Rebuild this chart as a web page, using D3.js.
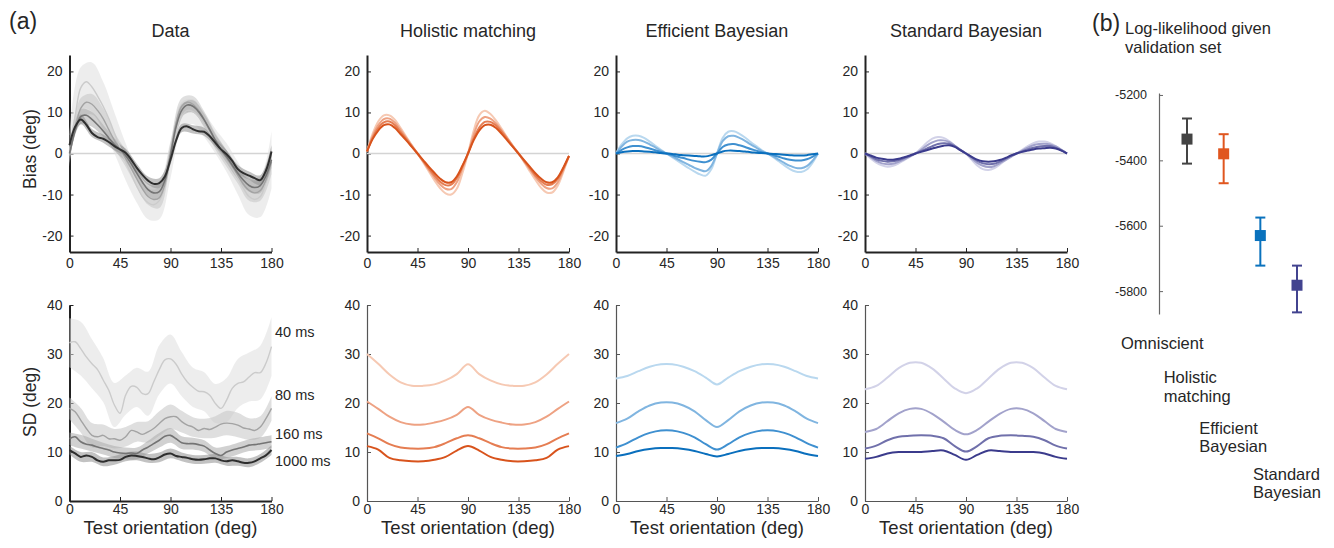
<!DOCTYPE html>
<html>
<head>
<meta charset="utf-8">
<script src="https://cdn.jsdelivr.net/npm/d3@7"></script>
<style>
  body { margin: 0; background: #fff; }
  text { font-family: "Liberation Sans", Arial, sans-serif; fill: #262626; }
</style>
</head>
<body>
<script>
// orientation grids (deg)
var angles5 = [0,5,10,15,20,25,30,35,40,45,50,55,60,65,70,75,80,85,90,95,100,105,110,115,120,125,130,135,140,145,150,155,160,165,170,175,180];
var angles10 = [0,10,20,30,40,50,60,70,80,90,100,110,120,130,140,150,160,170,180];

var durations = ["40 ms", "80 ms", "160 ms", "1000 ms"];
var xTicks = [0, 45, 90, 135, 180];
var biasTicks = [-20, -10, 0, 10, 20];
var sdTicks = [0, 10, 20, 30, 40];
var panelTitles = ["Data", "Holistic matching", "Efficient Bayesian", "Standard Bayesian"];

// ---- data: bias (5 deg steps) ----
var dataBias40   = [0.5,9.0,16.0,17.5,16.2,14.0,11.5,8.5,5.0,1.5,-2.0,-5.0,-8.0,-10.5,-12.0,-12.5,-11.5,-8.0,-1.5,5.0,9.0,10.5,10.2,9.0,7.0,5.0,3.0,1.2,-1.0,-3.5,-6.0,-8.5,-10.5,-11.2,-10.5,-7.0,-1.5];
var dataBias80   = [-0.5,6.0,11.0,12.5,12.0,10.5,8.5,5.8,3.2,1.0,-1.2,-3.6,-6.2,-8.6,-10.5,-11.2,-10.8,-7.5,0.2,7.5,11.5,12.5,12.0,10.5,8.3,5.6,3.0,0.8,-1.2,-3.2,-5.3,-7.5,-9.0,-9.6,-9.0,-6.5,-2.0];
var dataBias160  = [0.0,5.5,9.0,9.3,8.3,7.0,5.5,3.8,2.2,1.0,-0.5,-2.5,-4.8,-7.0,-8.8,-9.6,-9.3,-6.5,-0.5,6.5,10.5,11.8,11.5,10.2,8.2,5.8,3.2,1.0,-0.8,-2.8,-4.8,-6.5,-7.8,-8.3,-7.8,-5.5,-1.5];
var dataBias1000 = [2.0,6.5,8.3,7.0,5.0,4.0,3.6,2.8,1.8,1.0,0.2,-1.5,-3.5,-5.2,-6.6,-7.4,-7.2,-5.6,-1.5,3.2,6.2,6.6,5.9,5.4,5.3,4.2,2.6,1.0,-0.2,-1.8,-3.8,-4.8,-5.4,-6.0,-6.5,-4.2,0.5];
// error band half widths (10 deg steps)
var dataBiasErr40   = [4,5,6,6,5,4.5,4,4,4.5,4.5,3.5,3,3,3,3.5,4,4.5,5,7];
var dataBiasErr80   = [2,2.5,2.5,2.5,2,2,2,2,2.5,2.5,2,2,2,2,2,2,2.5,2.5,3];
var dataBiasErr160  = [1.5,1.8,1.8,1.5,1.5,1.5,1.5,1.5,1.8,1.8,1.5,1.5,1.5,1.5,1.5,1.5,1.5,1.8,2];
var dataBiasErr1000 = [1,1.2,1,1,1,1,1,1,1.2,1.2,1,1,1,1,1,1,1,1.2,1.5];

// ---- data: SD (5 deg steps) ----
var dataSd40   = [32.3,32.5,31.1,29.4,28.0,26.8,24.7,22.6,19.6,17.9,21.6,23.4,23.2,21.9,21.9,24.3,26.8,28.8,29.0,27.9,25.9,24.3,23.2,22.4,22.3,21.6,19.9,18.9,20.6,23.0,24.0,24.3,25.3,26.2,26.2,28.1,31.5];
var dataSd80   = [18.9,18.2,16.5,14.8,13.4,13.1,13.4,12.7,12.7,12.4,13.1,14.4,14.1,13.6,14.1,14.8,15.8,16.8,17.2,17.2,16.2,15.5,15.1,14.4,14.8,14.6,15.1,15.7,15.9,15.8,15.5,14.9,14.7,14.4,15.1,16.8,18.9];
var dataSd160  = [12.7,13.1,12.1,11.6,11.4,11.0,10.7,10.4,10.0,9.8,9.7,9.8,9.7,10.4,11.0,11.7,12.4,13.2,13.4,12.7,11.9,11.7,11.7,11.5,11.2,10.4,9.7,9.3,10.0,10.4,10.7,11.0,11.4,11.5,11.7,11.9,12.1];
var dataSd1000 = [10.4,9.7,9.0,9.3,9.0,8.3,8.0,8.3,8.3,8.4,9.0,9.3,9.2,9.0,8.7,8.5,8.9,9.5,9.7,9.2,9.0,8.8,8.5,8.4,8.5,8.7,8.7,8.3,8.1,8.3,8.1,7.8,7.8,8.1,8.7,9.3,10.4];
var dataSdErr40   = [5,5.5,5,4.5,4.5,4,4,4.5,5,5,4.5,4,4,4,4.5,5,5,5.5,6];
var dataSdErr80   = [2.2,2.5,2.5,2.2,2,2,2,2.2,2.5,2.5,2.2,2,2,2.2,2.5,2.5,2.2,2.2,2.5];
var dataSdErr160  = [1.3,1.4,1.3,1.2,1.2,1.2,1.2,1.3,1.5,1.5,1.3,1.2,1.2,1.2,1.2,1.2,1.2,1.3,1.3];
var dataSdErr1000 = [0.9,1,1,0.9,0.9,0.9,0.9,0.9,1,1,0.9,0.9,0.9,0.9,0.9,0.9,0.9,0.9,1];

// ---- holistic matching ----
var holBias40   = [0.5,4.8,7.8,9.3,9.3,8.2,6.2,4.1,2.0,0.0,-2.1,-4.3,-6.5,-8.4,-9.7,-10.0,-8.6,-4.8,0.0,5.5,9.3,10.4,9.6,8.0,6.0,3.9,1.9,0.0,-2.1,-4.3,-6.4,-8.3,-9.5,-9.5,-7.8,-4.4,-0.6];
var holBias80   = [0.5,4.2,6.9,8.4,8.5,7.5,5.7,3.8,1.9,0.0,-1.9,-3.9,-5.8,-7.5,-8.6,-8.7,-7.0,-3.7,0.0,4.5,7.8,8.9,8.5,7.3,5.6,3.7,1.8,0.0,-1.9,-3.8,-5.7,-7.3,-8.4,-8.5,-7.0,-4.0,-0.6];
var holBias160  = [0.5,3.8,6.2,7.6,7.8,6.9,5.2,3.5,1.7,0.0,-1.8,-3.6,-5.3,-6.8,-7.7,-7.6,-6.0,-3.2,0.0,3.6,6.3,7.7,7.7,6.8,5.3,3.5,1.7,0.0,-1.8,-3.5,-5.3,-6.7,-7.6,-7.5,-6.2,-3.6,-0.6];
var holBias1000 = [0.5,3.5,5.6,6.9,7.1,6.2,4.7,3.2,1.6,0.0,-1.6,-3.2,-4.7,-6.1,-7.0,-7.0,-5.6,-3.0,0.0,3.2,5.6,6.9,7.0,6.2,4.8,3.2,1.6,0.0,-1.6,-3.2,-4.8,-6.1,-7.0,-7.0,-5.8,-3.4,-0.6];
var holSd40   = [30.0,28.0,25.8,24.2,23.5,23.5,23.8,24.6,25.9,27.9,25.9,24.6,23.8,23.5,23.5,24.2,25.8,28.0,30.0];
var holSd80   = [20.3,18.8,17.2,16.1,15.6,15.6,16.0,16.6,17.6,19.2,17.6,16.6,16.0,15.6,15.6,16.1,17.2,18.8,20.3];
var holSd160  = [13.8,12.8,11.6,10.9,10.7,10.7,11.0,11.8,12.8,13.4,12.8,11.8,11.0,10.7,10.7,10.9,11.6,12.8,13.8];
var holSd1000 = [11.2,10.5,8.8,8.3,8.1,8.1,8.4,9.0,10.3,11.2,10.3,9.0,8.4,8.1,8.1,8.3,8.8,10.5,11.2];

// ---- efficient Bayesian ----
var effBias40   = [0,2.2,3.7,4.3,4.3,3.8,2.9,1.9,0.9,0,-0.9,-1.8,-2.7,-3.6,-4.4,-5.1,-5.4,-3.8,0,3.8,5.3,5.4,4.8,3.9,2.8,1.8,0.8,0,-0.9,-1.9,-2.9,-3.8,-4.4,-4.5,-3.9,-2.3,0];
var effBias80   = [0,1.7,2.9,3.3,3.3,2.9,2.2,1.5,0.7,0,-0.7,-1.4,-2.1,-2.8,-3.5,-4.0,-4.3,-3.0,0,3.0,4.2,4.3,3.8,3.1,2.2,1.4,0.6,0,-0.7,-1.5,-2.3,-3.0,-3.5,-3.6,-3.1,-1.8,0];
var effBias160  = [0,0.9,1.5,1.8,1.8,1.6,1.2,0.8,0.4,0,-0.4,-0.8,-1.1,-1.5,-1.8,-2.0,-2.1,-1.5,0,1.6,2.2,2.3,2.0,1.6,1.1,0.7,0.3,0,-0.4,-0.8,-1.2,-1.5,-1.7,-1.7,-1.4,-0.8,0];
var effBias1000 = [0,0.3,0.5,0.6,0.6,0.5,0.4,0.3,0.1,0,-0.1,-0.3,-0.4,-0.5,-0.6,-0.7,-0.7,-0.4,0,0.5,0.7,0.7,0.6,0.5,0.3,0.2,0.1,0,-0.1,-0.2,-0.3,-0.4,-0.5,-0.5,-0.4,-0.2,0];
var effSd40   = [25.0,25.5,26.5,27.4,27.9,27.9,27.4,26.5,25.2,23.8,25.2,26.5,27.4,27.9,27.9,27.4,26.5,25.5,25.0];
var effSd80   = [15.9,16.8,18.3,19.5,20.1,20.1,19.5,18.3,16.5,15.1,16.5,18.3,19.5,20.1,20.1,19.5,18.3,16.8,15.9];
var effSd160  = [10.9,11.8,13.0,13.9,14.4,14.4,13.9,13.0,11.6,10.5,11.6,13.0,13.9,14.4,14.4,13.9,13.0,11.8,10.9];
var effSd1000 = [9.2,9.6,10.2,10.6,10.8,10.8,10.6,10.2,9.6,9.1,9.6,10.2,10.6,10.8,10.8,10.6,10.2,9.6,9.2];

// ---- standard Bayesian ----
var stdBias40   = [0,-1.2,-2.2,-2.9,-3.2,-3.0,-2.4,-1.6,-0.8,0,1.3,2.6,3.6,4.0,3.8,3.0,1.9,0.9,0,-1.5,-2.9,-3.8,-4.0,-3.6,-2.7,-1.7,-0.8,0,0.9,1.8,2.5,2.9,2.9,2.5,1.8,0.9,0];
var stdBias80   = [0,-0.9,-1.8,-2.4,-2.6,-2.5,-2.0,-1.4,-0.7,0,0.9,1.9,2.7,3.2,3.2,2.8,1.9,0.9,0,-1.2,-2.3,-3.0,-3.3,-3.1,-2.4,-1.6,-0.8,0,0.7,1.4,2.0,2.3,2.4,2.2,1.7,0.9,0];
var stdBias160  = [0,-0.7,-1.4,-1.8,-2.0,-1.9,-1.6,-1.1,-0.6,0,0.6,1.2,1.8,2.3,2.5,2.4,1.8,0.9,0,-0.9,-1.8,-2.4,-2.6,-2.5,-2.0,-1.3,-0.6,0,0.5,1.0,1.4,1.7,1.8,1.8,1.4,0.8,0];
var stdBias1000 = [0,-0.5,-1.0,-1.3,-1.5,-1.5,-1.3,-0.9,-0.5,0,0.4,0.8,1.2,1.6,1.9,2.0,1.6,0.8,0,-0.8,-1.5,-1.9,-2.0,-1.9,-1.6,-1.1,-0.5,0,0.4,0.7,1.0,1.2,1.3,1.4,1.2,0.7,0];
var stdSd40   = [22.8,23.5,25.2,27.1,28.2,28.2,27.0,25.0,23.0,22.0,23.0,25.0,27.0,28.2,28.2,27.1,25.2,23.5,22.8];
var stdSd80   = [14.1,14.7,16.3,17.9,18.8,18.8,17.8,16.2,14.5,13.6,14.5,16.2,17.8,18.8,18.8,17.9,16.3,14.7,14.1];
var stdSd160  = [10.7,11.3,12.4,13.1,13.3,13.4,13.3,12.8,11.2,10.1,11.2,12.8,13.3,13.4,13.3,13.1,12.4,11.3,10.7];
var stdSd1000 = [8.6,9.0,9.7,10.0,10.0,10.0,10.2,10.3,9.4,8.4,9.4,10.3,10.2,10.0,10.0,10.0,9.7,9.0,8.6];

// ---- (b) log-likelihood ----
var llModels = ["Omniscient", "Holistic matching", "Efficient Bayesian", "Standard Bayesian"];
var llMean = [-5335, -5380, -5630, -5782];
var llLow  = [-5410, -5470, -5722, -5865];
var llHigh = [-5272, -5320, -5575, -5722];
var llTicks = [-5200, -5400, -5600, -5800];

// colours, light (40 ms) -> dark (1000 ms)
var grayLine = ["#cbcbcb", "#a3a3a3", "#747474", "#2e2e2e"];
var grayBand = ["#dedede", "#c4c4c4", "#ababab", "#8f8f8f"];
var holColors = ["#f6c9b3", "#eea283", "#e57d52", "#d8531c"];
var effColors = ["#b9d8ef", "#80b5e0", "#3f90d0", "#0a6fbd"];
var stdColors = ["#d2d2e8", "#a2a2cb", "#7070ab", "#3b3b8c"];
var llColors = ["#444444", "#e0561f", "#0a72bd", "#42438f"];

var W = 1334, H = 548;
var font = '"Liberation Sans", Arial, sans-serif';
var svg = d3.select("body").append("svg").attr("width", W).attr("height", H);

var panelX = [69.5, 367, 616, 865];
var panelW = 202;

function styleAxis(g, thick) {
  g.selectAll("path.domain").attr("stroke", thick ? "#222" : "#555").attr("stroke-width", thick ? 2 : 1.2);
  g.selectAll(".tick line").attr("stroke", thick ? "#222" : "#555").attr("stroke-width", 1);
  g.selectAll(".tick text").attr("font-family", font).attr("font-size", 14).attr("fill", "#262626");
}

function panel(col, row) {
  var x = d3.scaleLinear().domain([0, 180]).range([panelX[col], panelX[col] + panelW]);
  var y = row == 0
    ? d3.scaleLinear().domain([-24, 24]).range([252, 55])
    : d3.scaleLinear().domain([0, 40]).range([501, 305]);
  var g = svg.append("g");
  var thick = row == 0 || col == 0;
  var gx = g.append("g").attr("transform", "translate(0," + y.range()[0] + ")")
    .call(d3.axisBottom(x).tickValues(xTicks).tickSize(-4).tickSizeOuter(0).tickPadding(row == 0 ? 6 : 3));
  styleAxis(gx, thick);
  var gy = g.append("g").attr("transform", "translate(" + panelX[col] + ",0)")
    .call(d3.axisLeft(y).tickValues(row == 0 ? biasTicks : sdTicks).tickSize(-4).tickSizeOuter(0).tickPadding(7)
      .tickFormat(function(d){ return String(d); }));
  styleAxis(gy, thick);
  if (row == 0) {
    g.append("line")
      .attr("x1", x(0)).attr("x2", x(180)).attr("y1", y(0)).attr("y2", y(0))
      .attr("stroke", "#d4d4d4").attr("stroke-width", 1.5);
  }
  return {x: x, y: y, g: g};
}

function drawLines(p, series, grid, colors, width) {
  var line = d3.line().x(function(d, i){ return p.x(grid[i]); }).y(function(d){ return p.y(d); })
    .curve(d3.curveCatmullRom.alpha(0.5));
  p.g.selectAll(null).data(series).enter().append("path")
    .attr("d", line)
    .attr("fill", "none")
    .attr("stroke", function(d, i){ return colors[i]; })
    .attr("stroke-width", function(d, i){ return width[i]; })
    .attr("stroke-linejoin", "round");
}

function drawBands(p, means, errs) {
  var area = d3.area()
    .x(function(d){ return p.x(d.a); })
    .y0(function(d){ return p.y(d.m - d.e); })
    .y1(function(d){ return p.y(d.m + d.e); })
    .curve(d3.curveCatmullRom.alpha(0.5));
  means.forEach(function(m, k) {
    var pts = angles10.map(function(a, i){ return {a: a, m: m[i * 2], e: errs[k][i]}; });
    p.g.append("path").attr("d", area(pts)).attr("fill", grayBand[k]).attr("fill-opacity", 0.55);
  });
}

// ---- Data column ----
var pDB = panel(0, 0);
var dbMeans = [dataBias40, dataBias80, dataBias160, dataBias1000];
drawBands(pDB, dbMeans, [dataBiasErr40, dataBiasErr80, dataBiasErr160, dataBiasErr1000]);
drawLines(pDB, dbMeans, angles5, grayLine, [1.4, 1.4, 1.6, 2]);

var pDS = panel(0, 1);
var dsMeans = [dataSd40, dataSd80, dataSd160, dataSd1000];
drawBands(pDS, dsMeans, [dataSdErr40, dataSdErr80, dataSdErr160, dataSdErr1000]);
drawLines(pDS, dsMeans, angles5, grayLine, [1.4, 1.4, 1.6, 2]);

// duration labels next to data SD curves
var durLabelVals = [34.5, 21.7, 13.6, 8.1];
durations.forEach(function(t, i) {
  svg.append("text").attr("x", 275).attr("y", pDS.y(durLabelVals[i]) + 5)
    .attr("font-family", font).attr("font-size", 14.5).text(t);
});

// ---- model columns ----
var modelW = [2, 2, 2, 2];
var pHB = panel(1, 0); drawLines(pHB, [holBias40, holBias80, holBias160, holBias1000], angles5, holColors, modelW);
var pHS = panel(1, 1); drawLines(pHS, [holSd40, holSd80, holSd160, holSd1000], angles10, holColors, modelW);
var pEB = panel(2, 0); drawLines(pEB, [effBias40, effBias80, effBias160, effBias1000], angles5, effColors, modelW);
var pES = panel(2, 1); drawLines(pES, [effSd40, effSd80, effSd160, effSd1000], angles10, effColors, modelW);
var pSB = panel(3, 0); drawLines(pSB, [stdBias40, stdBias80, stdBias160, stdBias1000], angles5, stdColors, modelW);
var pSS = panel(3, 1); drawLines(pSS, [stdSd40, stdSd80, stdSd160, stdSd1000], angles10, stdColors, modelW);

// titles and axis labels
panelTitles.forEach(function(t, i) {
  svg.append("text").attr("x", panelX[i] + panelW / 2).attr("y", 36.5)
    .attr("text-anchor", "middle").attr("font-family", font).attr("font-size", 18).text(t);
  svg.append("text").attr("x", panelX[i] + panelW / 2).attr("y", 533.5)
    .attr("text-anchor", "middle").attr("font-family", font).attr("font-size", 18.5).text("Test orientation (deg)");
});
svg.append("text").attr("transform", "translate(36,149) rotate(-90)")
  .attr("text-anchor", "middle").attr("font-family", font).attr("font-size", 17.5).text("Bias (deg)");
svg.append("text").attr("transform", "translate(36,402) rotate(-90)")
  .attr("text-anchor", "middle").attr("font-family", font).attr("font-size", 17.5).text("SD (deg)");
svg.append("text").attr("x", 9).attr("y", 29).attr("font-family", font).attr("font-size", 23).text("(a)");

// ---- panel (b) ----
svg.append("text").attr("x", 1092).attr("y", 31).attr("font-family", font).attr("font-size", 23).text("(b)");
svg.append("text").attr("x", 1125).attr("y", 34).attr("font-family", font).attr("font-size", 16.5).text("Log-likelihood given");
svg.append("text").attr("x", 1125).attr("y", 53).attr("font-family", font).attr("font-size", 16.5).text("validation set");

var yb = d3.scaleLinear().domain([-5870, -5194]).range([314, 93]);
var xb = d3.scalePoint().domain(llModels).range([1187, 1297]);
var gb = svg.append("g").attr("transform", "translate(1159,0)")
  .call(d3.axisLeft(yb).tickValues(llTicks).tickSize(-4).tickSizeOuter(0).tickPadding(12)
    .tickFormat(function(d){ return String(d); }));
gb.selectAll("path.domain").attr("stroke", "#666").attr("stroke-width", 1.2);
gb.selectAll(".tick line").attr("stroke", "#666");
gb.selectAll(".tick text").attr("font-family", font).attr("font-size", 12.5).attr("fill", "#262626");

var eb = svg.append("g").selectAll("g").data(llModels).enter().append("g");
eb.append("line")
  .attr("x1", function(d){ return xb(d); }).attr("x2", function(d){ return xb(d); })
  .attr("y1", function(d, i){ return yb(llLow[i]); }).attr("y2", function(d, i){ return yb(llHigh[i]); })
  .attr("stroke", function(d, i){ return llColors[i]; }).attr("stroke-width", 2);
[llLow, llHigh].forEach(function(arr) {
  eb.append("line")
    .attr("x1", function(d){ return xb(d) - 5; }).attr("x2", function(d){ return xb(d) + 5; })
    .attr("y1", function(d, i){ return yb(arr[i]); }).attr("y2", function(d, i){ return yb(arr[i]); })
    .attr("stroke", function(d, i){ return llColors[i]; }).attr("stroke-width", 2);
});
eb.append("rect")
  .attr("x", function(d){ return xb(d) - 5.5; }).attr("y", function(d, i){ return yb(llMean[i]) - 5.5; })
  .attr("width", 11).attr("height", 11)
  .attr("fill", function(d, i){ return llColors[i]; });

// staggered model names under panel (b)
var labelDx = [-66, -60, -61, -44];
var labelBase = [349, 383, 433.5, 479.5];
llModels.forEach(function(m, i) {
  var words = m.split(" ");
  words.forEach(function(w, j) {
    svg.append("text").attr("x", xb(m) + labelDx[i]).attr("y", labelBase[i] + j * 18.5)
      .attr("font-family", font).attr("font-size", 16.5).text(w);
  });
});
</script>
</body>
</html>
